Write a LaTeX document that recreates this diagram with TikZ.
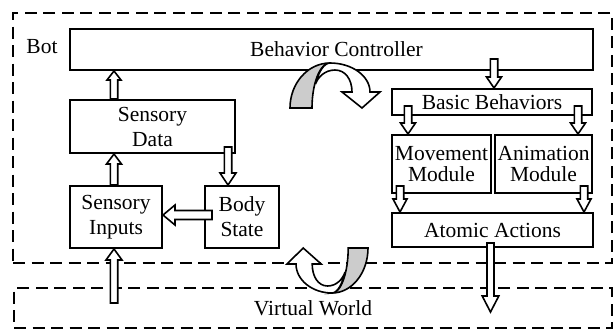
\documentclass[tikz,border=0pt]{standalone}
\usepackage{fontspec}
\setmainfont{Liberation Serif}
\usetikzlibrary{calc}
\definecolor{facegray}{RGB}{204,204,204}
\tikzset{
  box/.style={draw, line width=2pt, inner sep=0pt, align=center},
  dbox/.style={draw, line width=2pt, dash pattern=on 12pt off 6.5pt, inner sep=0pt},
  blockarrow/.style={draw, fill=white, line width=1.6pt, line join=miter},
  backface/.style={draw, fill=facegray, line width=1.6pt},
  frontface/.style={draw, fill=white, line width=1.6pt, line join=miter}
}
% hollow block arrow: from, to, shaft half width, head half width, head length
\newcommand{\blockarrow}[5]{%
  \path ($(#2)!#5!(#1)$) coordinate (ba-base);
  \draw[blockarrow] ($(#1)!#3!90:(#2)$) -- ($(ba-base)!#3!90:(#2)$)
    -- ($(ba-base)!#4!90:(#2)$) -- (#2) -- ($(ba-base)!#4!-90:(#2)$)
    -- ($(ba-base)!#3!-90:(#2)$) -- ($(#1)!#3!-90:(#2)$) -- cycle;}
% twisted curved arrow
\newcommand{\curvedarrow}[1]{%
  \begin{scope}[#1]
    \draw[backface] (-40,45) .. controls (-40,20.2) and (-22.1,0) .. (0,0)
      .. controls (-9.9,0) and (-18,20.2) .. (-18,45) -- cycle;
    \draw[frontface] (0,0) .. controls (22,0) and (40,13) .. (40,29) -- (50,29)
      -- (32,45) -- (12,29) -- (22,29) .. controls (22,16) and (15,7) .. (5,7)
      .. controls (-5,7) and (-12,14) .. (-14.5,21)
      .. controls (-11.5,9) and (-6,0) .. (0,0) -- cycle;
  \end{scope}}
\begin{document}
\begin{tikzpicture}[x=1pt, y=-1pt, font=\fontsize{21.5}{25}\selectfont]
\useasboundingbox (0,0) rectangle (616,333);
% dashed containers
\node[dbox, minimum width=599pt, minimum height=250pt] (bot) at (312.5,138) {};
\node (botlabel) at (42,47) {Bot};
\node[dbox, minimum width=598pt, minimum height=40pt] (VW) at (313,308) {Virtual World};
% boxes
\node[box, minimum width=523pt, minimum height=41pt] (BC) at (331.5,49.5) {\hspace*{10pt}Behavior Controller};
\node[box, minimum width=165pt, minimum height=53pt] (SD) at (152.5,126.5) {Sensory\\Data};
\node[box, minimum width=92pt, minimum height=62pt] (SI) at (116,217) {Sensory\\Inputs};
\node[box, minimum width=74pt, minimum height=62pt] (BS) at (242,217) {Body\\State};
\node[box, minimum width=200pt, minimum height=26pt] (BB) at (492,102) {Basic Behaviors};
\node[box, minimum width=99pt, minimum height=58pt, font=\fontsize{21.5}{21}\selectfont] (MM) at (441.5,164) {Movement\\Module};
\node[box, minimum width=97pt, minimum height=58pt, font=\fontsize{21.5}{21}\selectfont] (AM) at (543.5,164) {Animation\\Module};
\node[box, minimum width=201pt, minimum height=34pt] (AA) at (492.5,230) {Atomic Actions};
% connector end points
\coordinate (a1s) at ($(SD.north west)+(45,0)$);
\coordinate (a1e) at (a1s |- BC.south);
\coordinate (a2s) at (a1s |- SI.north);
\coordinate (a2e) at (a1s |- SD.south);
\coordinate (a3s) at ($(SD.south east)+(-8,-7)$);
\coordinate (a3e) at (a3s |- BS.north);
\coordinate (a4s) at ($(BS.west)+(8,-2)$);
\coordinate (a4e) at (a4s -| SI.east);
\coordinate (a5s) at ($(a1s |- VW.center)+(0,-5)$);
\coordinate (a5e) at (a1s |- SI.south);
\coordinate (a6s) at ($(BB.north)+(2,-29)$);
\coordinate (a6e) at (a6s |- BB.north);
\coordinate (a7s) at ($(BB.west)+(17,4)$);
\coordinate (a7e) at (a7s |- MM.north);
\coordinate (a8s) at ($(BB.east)+(-15,4)$);
\coordinate (a8e) at (a8s |- AM.north);
\coordinate (a9s) at ($(MM.south west)+(9,-8)$);
\coordinate (a9e) at (a9s |- AA.north);
\coordinate (a10s) at ($(AM.south east)+(-9,-8)$);
\coordinate (a10e) at (a10s |- AA.north);
\coordinate (a11s) at ($(AA.south)+(-2,-5)$);
\coordinate (a11e) at ($(a11s |- VW.center)+(0,4)$);
% block arrows
\blockarrow{a1s}{a1e}{3.7pt}{7pt}{9pt}
\blockarrow{a2s}{a2e}{3.7pt}{7.5pt}{10pt}
\blockarrow{a3s}{a3e}{3.7pt}{8pt}{12pt}
\blockarrow{a4s}{a4e}{4.5pt}{10pt}{12pt}
\blockarrow{a5s}{a5e}{3.7pt}{8pt}{11pt}
\blockarrow{a6s}{a6e}{3.7pt}{7.5pt}{11pt}
\blockarrow{a7s}{a7e}{3.7pt}{7.5pt}{11pt}
\blockarrow{a8s}{a8e}{3.7pt}{7.5pt}{11pt}
\blockarrow{a9s}{a9e}{3.7pt}{7pt}{13pt}
\blockarrow{a10s}{a10e}{3.7pt}{7pt}{13pt}
\blockarrow{a11s}{a11e}{3.5pt}{8.3pt}{16pt}
% curved arrows
\curvedarrow{shift={(330,63)}}
\curvedarrow{shift={(332,293)}, xscale=-0.9, yscale=-1}
\end{tikzpicture}
\end{document}
